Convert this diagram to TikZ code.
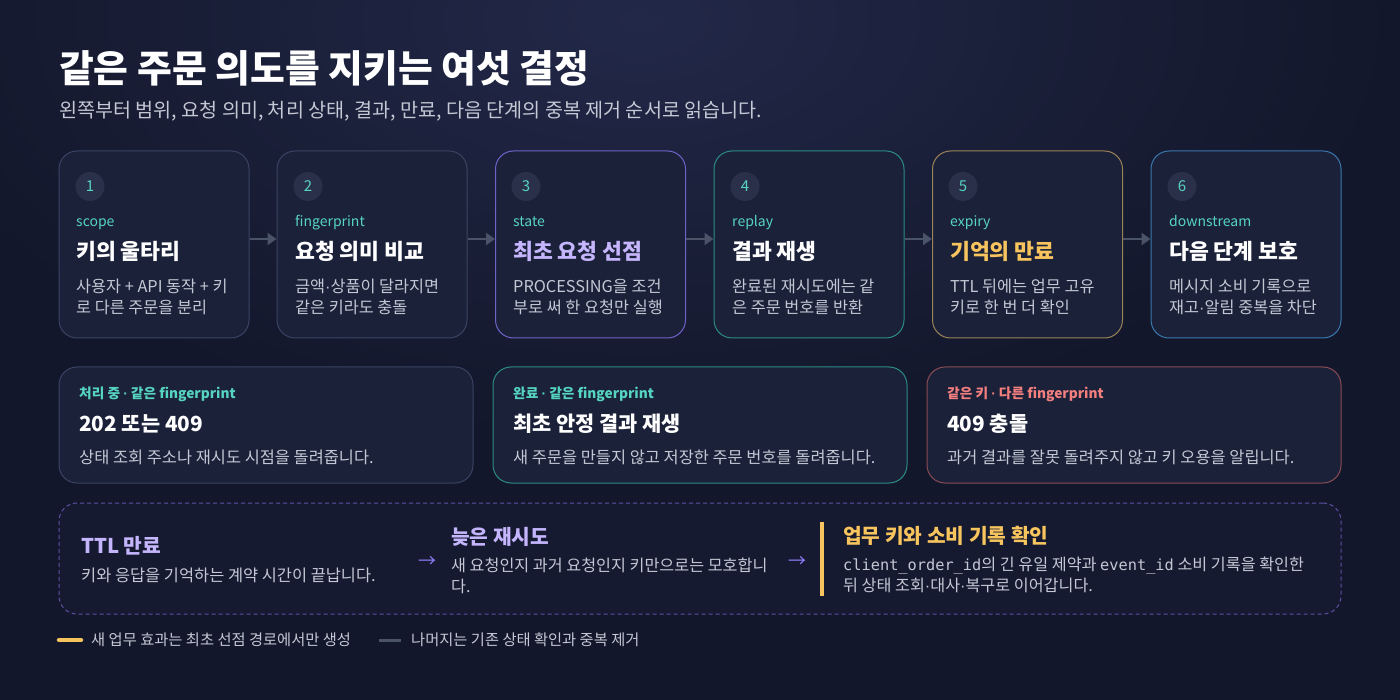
\documentclass[tikz,border=0pt]{standalone}
\usepackage{fontspec}
\setmainfont{Noto Sans CJK KR}
\newfontfamily\codefont{DejaVu Sans Mono}
\newfontfamily\latinfont{Liberation Sans}
\newcommand\mdot{{\latinfont ·}}
\usetikzlibrary{arrows.meta}
\definecolor{bgc}{HTML}{13172B}
\definecolor{bglight}{HTML}{222848}
\definecolor{cardfill}{HTML}{1B2139}
\definecolor{cardline}{HTML}{3A4363}
\definecolor{purpleline}{HTML}{6F63C9}
\definecolor{tealline}{HTML}{2C8C84}
\definecolor{goldline}{HTML}{9A8358}
\definecolor{blueline}{HTML}{3A78AE}
\definecolor{redline}{HTML}{8A4C55}
\definecolor{teal}{HTML}{56D4C2}
\definecolor{lav}{HTML}{C4B5FD}
\definecolor{gold}{HTML}{F8C45E}
\definecolor{salmon}{HTML}{F47F7F}
\definecolor{desc}{HTML}{C3C8D4}
\definecolor{arrowgray}{HTML}{4B5369}
\definecolor{circfill}{HTML}{2A3049}
\definecolor{arrowpurple}{HTML}{8B7CF6}
\definecolor{panelfill}{HTML}{161A31}
\definecolor{dashline}{HTML}{5A51A3}
\tikzset{
  card/.style={draw=cardline, fill=cardfill, line width=1pt, rounded corners=18pt,
    minimum width=190pt, minimum height=187pt, inner sep=0pt},
  wide/.style={draw=cardline, fill=cardfill, line width=1pt, rounded corners=18pt,
    minimum width=414pt, minimum height=116pt, inner sep=0pt},
  numcirc/.style={circle, fill=circfill, minimum size=29pt, inner sep=0pt, text=teal,
    font={\fontsize{15}{18}\selectfont}},
  tag/.style={anchor=base west, inner sep=0pt, text=teal, font={\fontsize{14}{17}\selectfont}},
  ctitle/.style={anchor=west, inner sep=0pt, text=white, font={\fontsize{21.6}{26}\bfseries\selectfont}},
  cdesc/.style={anchor=west, inner sep=0pt, text=desc, align=left,
    font={\fontsize{16.3}{21}\selectfont}},
  wtag/.style={anchor=west, inner sep=0pt, font={\fontsize{13.7}{16}\bfseries\selectfont}},
  wtitle/.style={anchor=west, inner sep=0pt, text=white, font={\fontsize{20.8}{25}\bfseries\selectfont}},
  wdesc/.style={anchor=west, inner sep=0pt, text=desc, font={\fontsize{16.4}{20}\selectfont}},
  ptitle/.style={anchor=west, inner sep=0pt, font={\fontsize{20.3}{24}\bfseries\selectfont}},
  pdesc/.style={anchor=west, inner sep=0pt, text=desc, align=left,
    font={\fontsize{16.2}{21.7}\selectfont}},
  flow/.style={draw=arrowgray, line width=2.5pt, -{Triangle[length=9pt,width=12pt]}},
  parrow/.style={inner sep=0pt, text=arrowpurple, font={\fontsize{18}{20}\selectfont}},
  legtext/.style={anchor=west, inner sep=0pt, text=desc, font={\fontsize{15.3}{18}\selectfont}},
}
\begin{document}
\begin{tikzpicture}[x=1pt,y=-1pt]
\useasboundingbox (0,0) rectangle (1400,700);
\fill[bgc] (0,0) rectangle (1400,700);
\begin{scope}
\clip (0,0) rectangle (1400,700);
\shade[inner color=bglight, outer color=bgc] (640,20) ellipse [x radius=760pt, y radius=420pt];
\end{scope}

% heading
\node[anchor=west, inner sep=0pt, text=white, font={\fontsize{37.8}{44}\bfseries\selectfont}] (title) at (59,68) {같은 주문 의도를 지키는 여섯 결정};
\node[anchor=west, inner sep=0pt, text=desc, font={\fontsize{19.6}{23}\selectfont}] (subtitle) at (59,111) {왼쪽부터 범위, 요청 의미, 처리 상태, 결과, 만료, 다음 단계의 중복 제거 순서로 읽습니다.};

% cards
\node[card] (c1) at (154,244.5) {};
\node[card] (c2) at (372,244.5) {};
\node[card, draw=purpleline] (c3) at (590.5,244.5) {};
\node[card, draw=tealline] (c4) at (809,244.5) {};
\node[card, draw=goldline] (c5) at (1027.5,244.5) {};
\node[card, draw=blueline] (c6) at (1246,244.5) {};

\foreach \n/\x in {1/59,2/277,3/495,4/714,5/932,6/1151}{
  \node[numcirc] (n\n) at (\x+31,186.5) {\n};
}
\node[tag] (t1) at (76,227) {scope};
\node[tag] (t2) at (295,227) {fingerprint};
\node[tag] (t3) at (513,227) {state};
\node[tag] (t4) at (732,227) {replay};
\node[tag] (t5) at (950,227) {expiry};
\node[tag] (t6) at (1169,227) {downstream};

\node[ctitle] (h1) at (76,251.5) {키의 울타리};
\node[ctitle] (h2) at (295,251.5) {요청 의미 비교};
\node[ctitle, text=lav] (h3) at (513,251.5) {최초 요청 선점};
\node[ctitle] (h4) at (732,251.5) {결과 재생};
\node[ctitle, text=gold] (h5) at (950,251.5) {기억의 만료};
\node[ctitle] (h6) at (1169,251.5) {다음 단계 보호};

\node[cdesc] (d1) at (76,297.2) {사용자 + API 동작 + 키\\로 다른 주문을 분리};
\node[cdesc] (d2) at (295,297.2) {금액\mdot 상품이 달라지면\\같은 키라도 충돌};
\node[cdesc] (d3) at (513,297.2) {PROCESSING을 조건\\부로 써 한 요청만 실행};
\node[cdesc] (d4) at (732,297.2) {완료된 재시도에는 같\\은 주문 번호를 반환};
\node[cdesc] (d5) at (950,297.2) {TTL 뒤에는 업무 고유\\키로 한 번 더 확인};
\node[cdesc] (d6) at (1169,297.2) {메시지 소비 기록으로\\재고\mdot 알림 중복을 차단};

\draw[flow] ([yshift=5.5pt]c1.east) -- ([yshift=5.5pt]c2.west);
\draw[flow] ([yshift=5.5pt]c2.east) -- ([yshift=5.5pt]c3.west);
\draw[flow] ([yshift=5.5pt]c3.east) -- ([yshift=5.5pt]c4.west);
\draw[flow] ([yshift=5.5pt]c4.east) -- ([yshift=5.5pt]c5.west);
\draw[flow] ([yshift=5.5pt]c5.east) -- ([yshift=5.5pt]c6.west);

% outcome boxes
\node[wide] (o1) at (266,425) {};
\node[wide, draw=tealline] (o2) at (700,425) {};
\node[wide, draw=redline] (o3) at (1134,425) {};

\node[wtag, text=teal] (ot1) at (79,394) {처리 중 \mdot{} 같은 fingerprint};
\node[wtag, text=teal] (ot2) at (513,394) {완료 \mdot{} 같은 fingerprint};
\node[wtag, text=salmon] (ot3) at (947,394) {같은 키 \mdot{} 다른 fingerprint};
\node[wtitle] (oh1) at (79,424) {202 또는 409};
\node[wtitle] (oh2) at (513,424) {최초 안정 결과 재생};
\node[wtitle] (oh3) at (947,424) {409 충돌};
\node[wdesc] (od1) at (79,457) {상태 조회 주소나 재시도 시점을 돌려줍니다.};
\node[wdesc] (od2) at (513,457) {새 주문을 만들지 않고 저장한 주문 번호를 돌려줍니다.};
\node[wdesc] (od3) at (947,457) {과거 결과를 잘못 돌려주지 않고 키 오용을 알립니다.};

% dashed panel
\node[draw=dashline, fill=panelfill, dash pattern=on 4pt off 3pt, line width=1pt, rounded corners=18pt,
  minimum width=1282pt, minimum height=111pt, inner sep=0pt] (panel) at (700,558.5) {};

\node[ptitle, text=lav] (p1) at (81,545.5) {TTL 만료};
\node[wdesc] (pd1) at (81,575) {키와 응답을 기억하는 계약 시간이 끝납니다.};
\node[parrow] (a1) at (427,562) {→};
\node[ptitle, text=lav] (p2) at (451,536.5) {늦은 재시도};
\node[pdesc] (pd2) at (451,576) {새 요청인지 과거 요청인지 키만으로는 모호합니\\다.};
\node[parrow] (a2) at (797,562) {→};
\node[fill=gold, minimum width=4pt, minimum height=74pt, inner sep=0pt] (bar) at (822,559) {};
\node[ptitle, text=gold] (p3) at (843,535.5) {업무 키와 소비 기록 확인};
\node[pdesc] (pd3) at (843,575) {{\codefont\fontsize{15.3}{21.7}\selectfont client\_order\_id}의 긴 유일 제약과 {\codefont\fontsize{15.3}{21.7}\selectfont event\_id} 소비 기록을 확인한\\뒤 상태 조회\mdot 대사\mdot 복구로 이어갑니다.};

% legend
\coordinate (l1a) at (59,640);
\coordinate (l1b) at (81,640);
\draw[gold, line width=4.5pt, line cap=round] (l1a) -- (l1b);
\node[legtext] (lt1) at (91,640) {새 업무 효과는 최초 선점 경로에서만 생성};
\coordinate (l2a) at (379,640);
\coordinate (l2b) at (401,640);
\draw[arrowgray, line width=3pt] (l2a) -- (l2b);
\node[legtext] (lt2) at (411,640) {나머지는 기존 상태 확인과 중복 제거};
\end{tikzpicture}
\end{document}
